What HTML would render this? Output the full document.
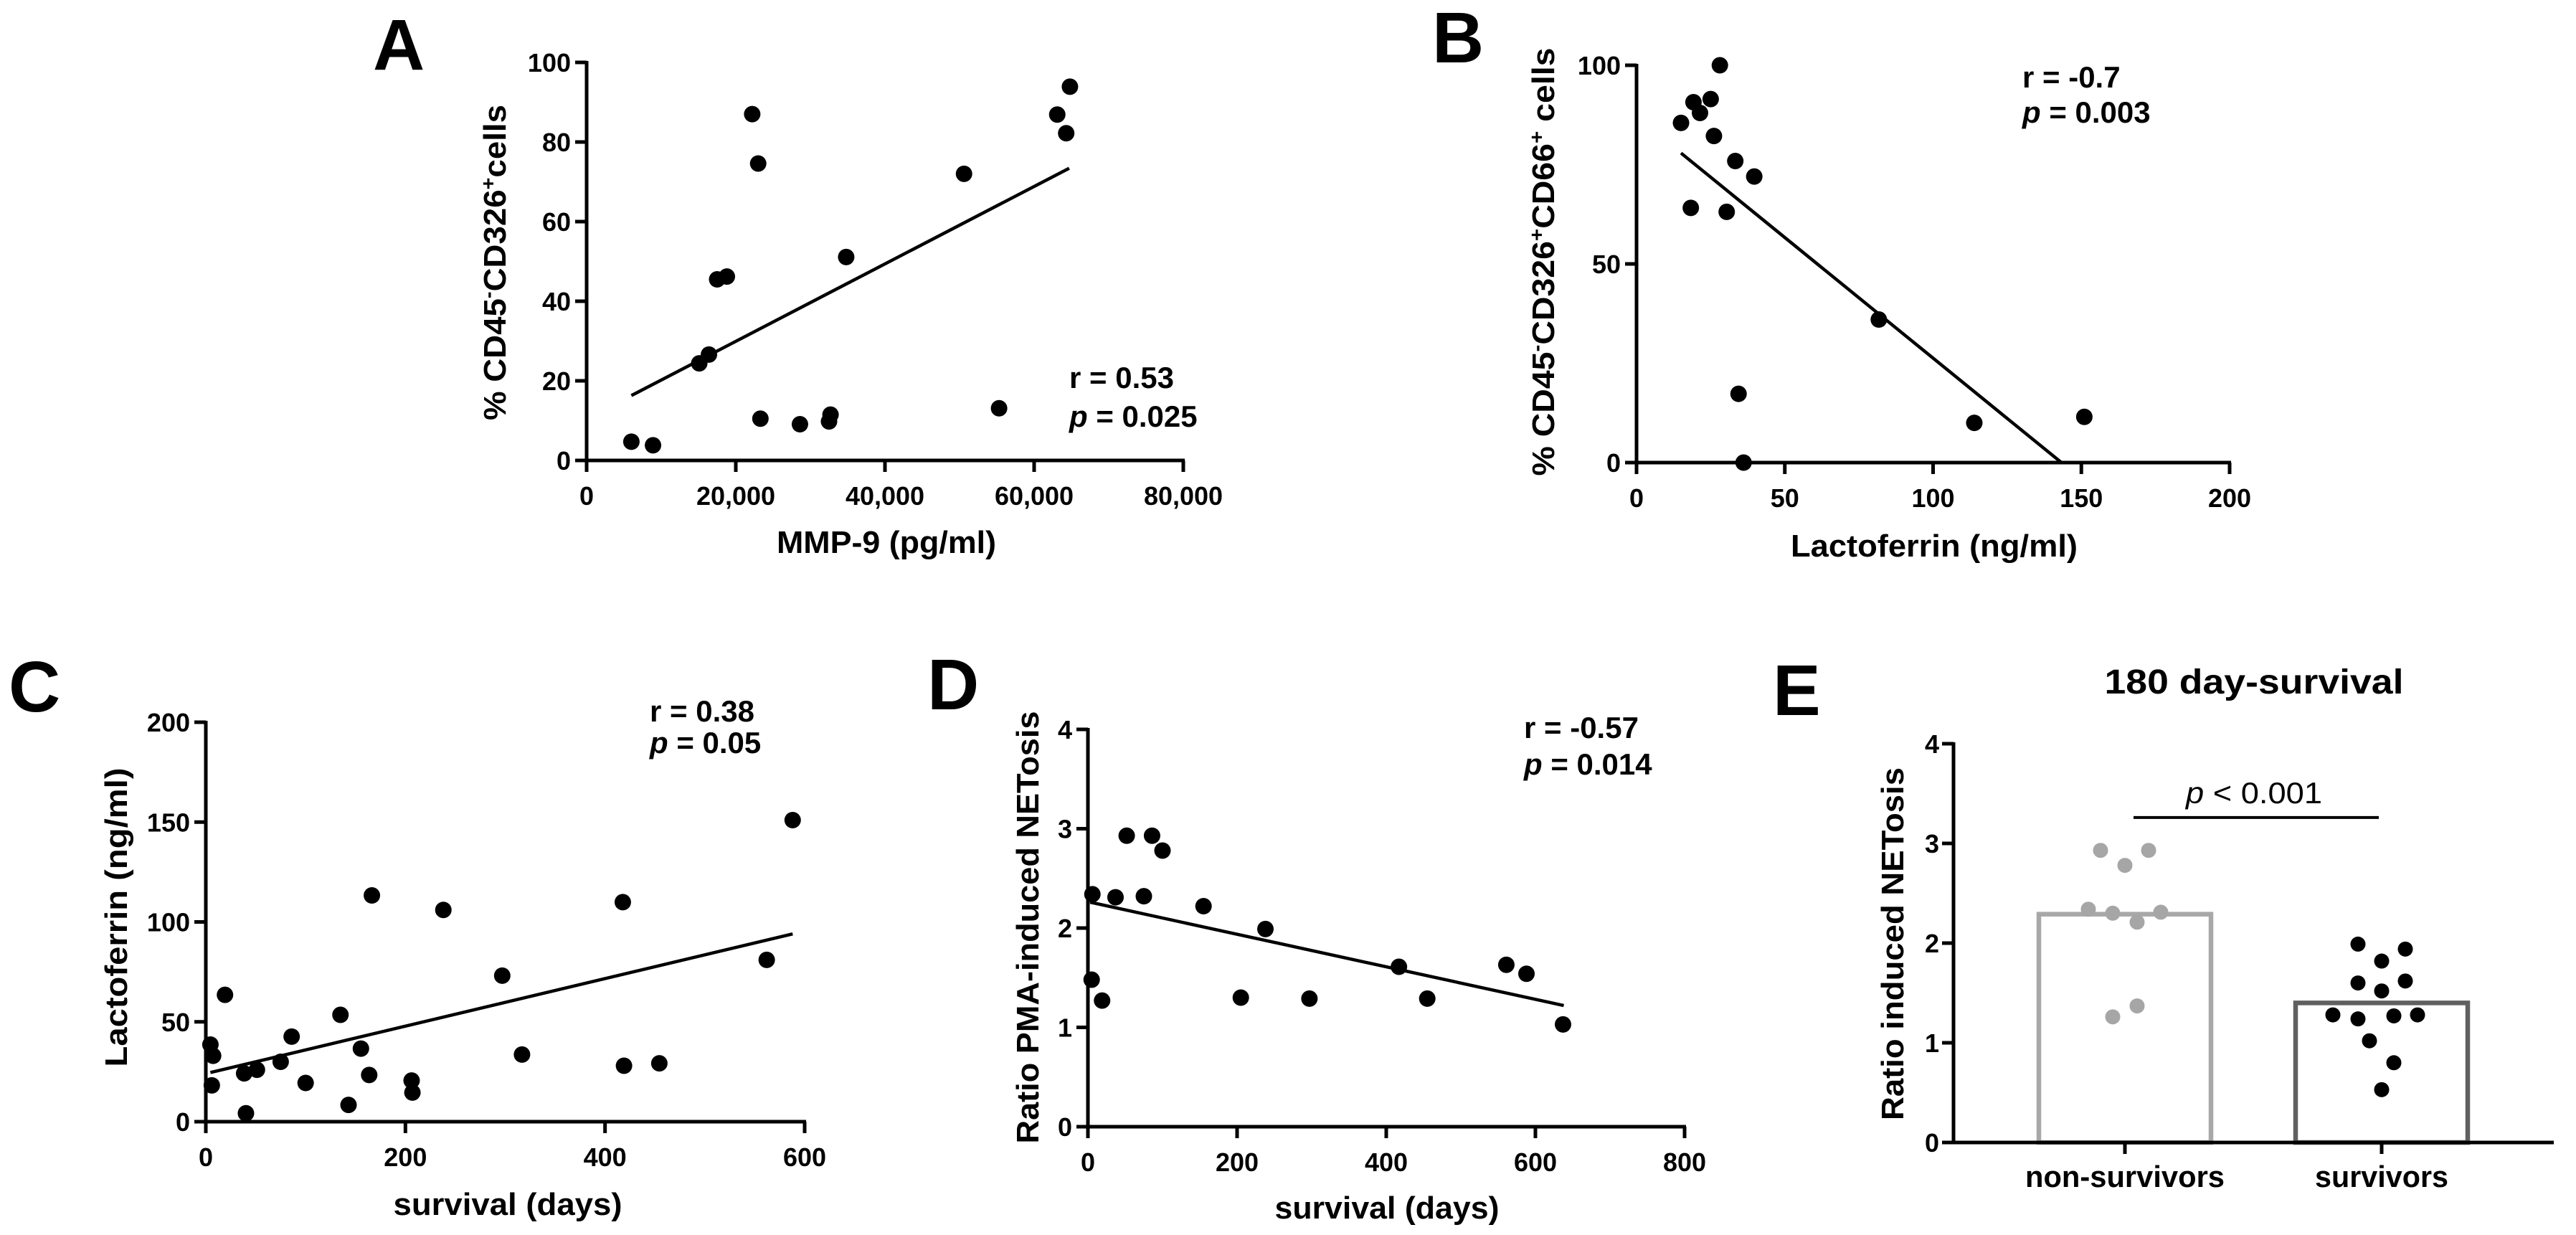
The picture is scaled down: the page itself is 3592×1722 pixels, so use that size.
<!DOCTYPE html>
<html><head><meta charset="utf-8"><style>
html,body{margin:0;padding:0;background:#fff}
svg{display:block}
text{font-family:"Liberation Sans",Arial,sans-serif;font-weight:bold;fill:#000}
</style></head><body>
<svg id="fig" width="3592" height="1722" viewBox="0 0 3592 1722" xmlns="http://www.w3.org/2000/svg">
<g>
<text x="520" y="97" font-size="100">A</text>
<text x="1997" y="87" font-size="100">B</text>
<text x="12" y="992" font-size="100">C</text>
<text x="1293" y="989" font-size="100">D</text>
<text x="2472" y="997" font-size="100">E</text>
</g>
</svg>
<script>
// ---------- Panel A data ----------
const aX = [6000,8900,15100,16400,17500,18800,22200,23000,23300,28600,32500,32700,34800,50600,55300,63100,64300,64800];
const aY = [4.7,3.8,24.4,26.6,45.5,46.2,87,74.6,10.5,9.1,9.8,11.5,51.1,72,13.1,86.9,82.2,93.9];
const aFitX = [6000,64700];
const aFitY = [16.3,73.4];
const aXTicks = [0,20000,40000,60000,80000];
const aXTickLabels = ["0","20,000","40,000","60,000","80,000"];
const aYTicks = [0,20,40,60,80,100];
// ---------- Panel B data ----------
const bX = [15,18.3,19.2,21.4,25,26.1,28.1,30.4,33.3,34.4,36.1,39.7,81.7,113.9,151];
const bY = [85.5,64.1,90.7,88,91.5,82.2,100,63.1,75.9,17.3,0,72,36,10,11.5];
const bFitX = [15,143.3];
const bFitY = [77.9,0];
const bXTicks = [0,50,100,150,200];
const bYTicks = [0,50,100];
// ---------- Panel C data ----------
const cX = [4.6,7.3,6,19.2,38.4,40.2,51.2,75,86,100,134.9,143,155.4,163.7,166.4,206.2,207,238,297,316.8,417.8,419,454.4,562,588];
const cY = [38.6,33,18.2,63.5,24.2,4.2,26,30,42.6,19.4,53.5,8.4,36.6,23.4,113.3,20.6,14.6,106,73.1,33.6,109.9,28,29.2,81,151];
const cFitX = [4.6,588];
const cFitY = [24.6,94];
const cXTicks = [0,200,400,600];
const cYTicks = [0,50,100,150,200];
// ---------- Panel D data ----------
const dX = [6,5,19,37,52,75,86,100,155,205,238,297,417,455,561,588,637];
const dY = [2.34,1.48,1.27,2.31,2.93,2.32,2.93,2.78,2.22,1.30,1.99,1.29,1.61,1.29,1.63,1.54,1.03];
const dFitX = [3,638];
const dFitY = [2.26,1.22];
const dXTicks = [0,200,400,600,800];
const dYTicks = [0,1,2,3,4];
// ---------- Panel E data ----------
const eCategories = ["non-survivors","survivors"];
const eMeans = [2.29,1.40];
const eNonSurv = [2.93,2.93,2.78,2.34,2.30,2.31,2.21,1.26,1.37];
const eSurv = [1.99,1.94,1.82,1.60,1.62,1.52,1.28,1.24,1.27,1.28,1.02,0.80,0.53];
const eYTicks = [0,1,2,3,4];
const eSigY = [3.26];
// jitter offsets (layout only, px)
const eJitNon = [-34,33,0,-51,-17,50,17,-17,17];
const eJitSurv = [-33,33,0,-33,33,0,-68,-33,17,50,-17,17,0];

const NS="http://www.w3.org/2000/svg";
const svg=document.getElementById('fig');
function el(tag,attrs,parent,txt){const e=document.createElementNS(NS,tag);for(const k in attrs)e.setAttribute(k,attrs[k]);if(txt!==undefined)e.textContent=txt;(parent||svg).appendChild(e);return e;}
function lin(d0,d1,r0,r1){return v=>r0+(v-d0)/(d1-d0)*(r1-r0);}

function scatter(p){
  const g=el('g',{});
  
  
  const sx=lin(p.xd[0],p.xd[1],p.x0,p.x1), sy=lin(p.yd[0],p.yd[1],p.y0,p.y1);
  const ax=el('g',{},g);
  
  
  const yl=el('line',{x1:p.x0,y1:p.y0+2.5,x2:p.x0,y2:p.y1-2,stroke:'#000','stroke-width':5},ax);
  
  
  const xl=el('line',{x1:p.x0-2.5,y1:p.y0,x2:p.x1+2,y2:p.y0,stroke:'#000','stroke-width':5},ax);
  
  
  p.yt.forEach(v=>{const y=sy(v);
    const t=el('line',{x1:p.x0-16,y1:y,x2:p.x0,y2:y,stroke:'#000','stroke-width':5},ax);
    
    
    const l=el('text',{x:p.x0-22,y:y+13,'font-size':36,'text-anchor':'end'},ax,String(v));
    
    });
  p.xt.forEach((v,i)=>{const x=sx(v);
    const t=el('line',{x1:x,y1:p.y0,x2:x,y2:p.y0+16,stroke:'#000','stroke-width':5},ax);
    
    
    const l=el('text',{x:x,y:p.y0+62,'font-size':36,'text-anchor':'middle'},ax,p.xtl?p.xtl[i]:String(v));
    
    });
  const fl=el('line',{x1:sx(p.fx[0]),y1:sy(p.fy[0]),x2:sx(p.fx[1]),y2:sy(p.fy[1]),stroke:'#000','stroke-width':4.5},g);
  
  
  p.X.forEach((v,i)=>{const c=el('circle',{cx:sx(v),cy:sy(p.Y[i]),r:11.5,fill:'#000'},g);
    
    });
  const xt=el('text',{x:p.xtit[0],y:p.xtit[1],'font-size':44,'text-anchor':'middle',textLength:p.xtit[2],lengthAdjust:'spacingAndGlyphs'},g,p.xtitle);
  
  
  const yt=el('text',{x:0,y:0,'font-size':44,'text-anchor':'middle',textLength:p.ytit[2],lengthAdjust:'spacingAndGlyphs',transform:`translate(${p.ytit[0]+16},${p.ytit[1]}) rotate(-90)`},g);
  
  
  yt.innerHTML=p.ytitle;
  const r=el('text',{x:p.stat[0],y:p.stat[1],'font-size':42},g,p.rtxt);
  
  
  const pv=el('text',{x:p.stat[0],y:p.stat[2],'font-size':42},g);
  
  
  pv.innerHTML='<tspan font-style="italic">p</tspan> = '+p.ptxt;
}
const sup='<tspan baseline-shift="super" font-size="28">';
scatter({name:'panel-a',x0:818,x1:1650,y0:642,y1:87,xd:[0,80000],yd:[0,100],X:aX,Y:aY,fx:aFitX,fy:aFitY,xt:aXTicks,xtl:aXTickLabels,yt:aYTicks,
  xtitle:'MMP-9 (pg/ml)',xtit:[1236,771,306],ytitle:'% CD45'+sup+'-</tspan>CD326'+sup+'+</tspan>cells',ytit:[689,366,440],stat:[1491,541,595],rtxt:'r = 0.53',ptxt:'0.025'});
scatter({name:'panel-b',x0:2282,x1:3109,y0:645,y1:91,xd:[0,200],yd:[0,100],X:bX,Y:bY,fx:bFitX,fy:bFitY,xt:bXTicks,yt:bYTicks,
  xtitle:'Lactoferrin (ng/ml)',xtit:[2697,776,400],ytitle:'% CD45'+sup+'-</tspan>CD326'+sup+'+</tspan>CD66'+sup+'+</tspan> cells',ytit:[2151,365,597],stat:[2820,122,171],rtxt:'r = -0.7',ptxt:'0.003'});
scatter({name:'panel-c',x0:287,x1:1122,y0:1564,y1:1007,xd:[0,600],yd:[0,200],X:cX,Y:cY,fx:cFitX,fy:cFitY,xt:cXTicks,yt:cYTicks,
  xtitle:'survival (days)',xtit:[708,1694,319],ytitle:'Lactoferrin (ng/ml)',ytit:[161,1279,417],stat:[906,1006,1050],rtxt:'r = 0.38',ptxt:'0.05'});
scatter({name:'panel-d',x0:1517,x1:2349,y0:1571,y1:1017,xd:[0,800],yd:[0,4],X:dX,Y:dY,fx:dFitX,fy:dFitY,xt:dXTicks,yt:dYTicks,
  xtitle:'survival (days)',xtit:[1934,1699,313],ytitle:'Ratio PMA-induced NETosis',ytit:[1432,1293,603],stat:[2125,1029,1080],rtxt:'r = -0.57',ptxt:'0.014'});

// ---------- Panel E ----------
(function(){
  const g=el('g',{});
  
  
  const x0=2724,x1=3561,y0=1593,y1=1037;
  const sy=lin(0,4,y0,y1);
  const centers=[2963,3321], halfW=120, colors=['#a8a8a8','#606060'], dotCol=['#a6a6a6','#000'];
  const tit=el('text',{x:3143,y:967,'font-size':48,'text-anchor':'middle',textLength:417,lengthAdjust:'spacingAndGlyphs'},g,'180 day-survival');
  
  
  eMeans.forEach((m,i)=>{
    const b=el('rect',{x:centers[i]-halfW,y:sy(m),width:halfW*2,height:y0-sy(m),fill:'#fff',stroke:colors[i],'stroke-width':6.5},g);
    
    
  });
  const yl=el('line',{x1:x0,y1:y0+2.5,x2:x0,y2:y1-2,stroke:'#000','stroke-width':5},g);
  
  
  const xl=el('line',{x1:x0-2.5,y1:y0,x2:x1,y2:y0,stroke:'#000','stroke-width':5},g);
  
  
  eYTicks.forEach(v=>{const y=sy(v);
    const t=el('line',{x1:x0-16,y1:y,x2:x0,y2:y,stroke:'#000','stroke-width':5},g);
    
    
    const l=el('text',{x:x0-20,y:y+13,'font-size':36,'text-anchor':'end'},g,String(v));
    
    });
  const catW=[278,186];
  eCategories.forEach((c,i)=>{
    const t=el('line',{x1:centers[i],y1:y0,x2:centers[i],y2:y0+16,stroke:'#000','stroke-width':5},g);
    
    
    const l=el('text',{x:centers[i],y:1655,'font-size':42,'text-anchor':'middle',textLength:catW[i],lengthAdjust:'spacingAndGlyphs'},g,c);
    
    
  });
  [eNonSurv,eSurv].forEach((arr,i)=>{
    const jit=i===0?eJitNon:eJitSurv;
    arr.forEach((v,j)=>{const c=el('circle',{cx:centers[i]+jit[j],cy:sy(v),r:10.5,fill:dotCol[i]},g);
      
      });
  });
  const sl=el('line',{x1:2975,y1:sy(eSigY[0]),x2:3317,y2:sy(eSigY[0]),stroke:'#000','stroke-width':4},g);
  
  
  const pt=el('text',{x:3143,y:1120,'font-size':42,'font-weight':'normal','text-anchor':'middle',textLength:190,lengthAdjust:'spacingAndGlyphs',style:'font-weight:normal'},g);
  
  
  pt.innerHTML='<tspan font-style="italic">p</tspan> &lt; 0.001';
  const yt=el('text',{x:0,y:0,'font-size':44,'text-anchor':'middle',textLength:492,lengthAdjust:'spacingAndGlyphs',transform:'translate(2654,1316) rotate(-90)'},g,'Ratio induced NETosis');
  
  
})();
</script>
</body></html>
